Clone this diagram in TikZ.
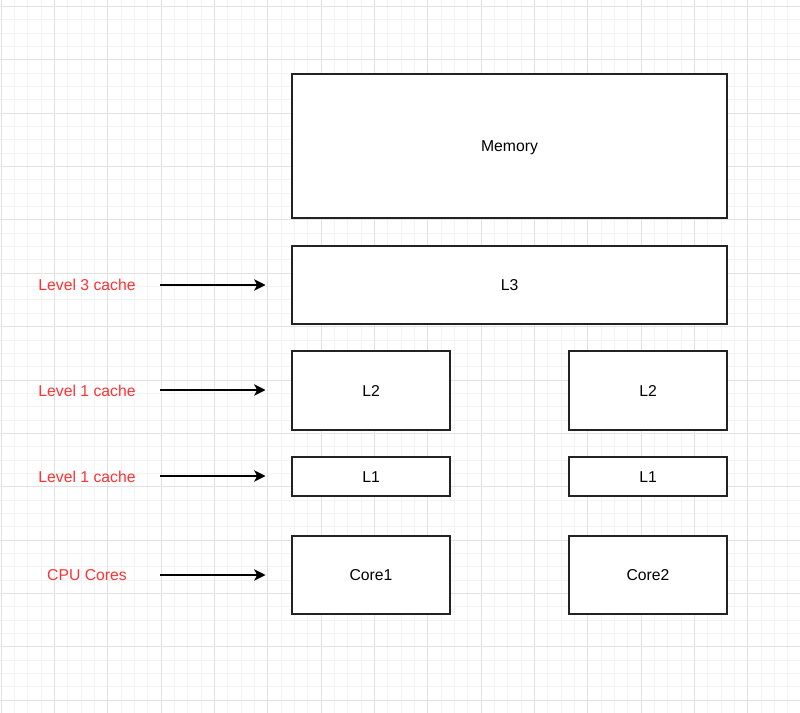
\documentclass[tikz,border=0pt]{standalone}
\usepackage{fontspec}
\setmainfont{Liberation Sans}
\usetikzlibrary{arrows.meta}
\definecolor{gridminor}{HTML}{F3F3F3}
\definecolor{gridmajor}{HTML}{E2E2E2}
\definecolor{lblred}{HTML}{FF3333}
\definecolor{boxline}{HTML}{222222}
\tikzset{
  x=0.75pt, y=-0.75pt,
  minorgrid/.style={draw=gridminor, line width=0.75pt},
  majorgrid/.style={draw=gridmajor, line width=0.75pt},
  txt/.style={font=\fontsize{11.8pt}{14pt}\selectfont, text height=8.45pt, text depth=0pt},
  box/.style={txt, draw=boxline, fill=white, line width=1pt, inner sep=0pt},
  lbl/.style={txt, text=lblred, inner sep=0pt},
  pointer/.style={draw=black, line width=1pt, -{Stealth[length=8.5pt, width=8.5pt, inset=2.2pt]}}
}
\begin{document}
\begin{tikzpicture}
\fill[white] (0,0) rectangle (800,713);
\useasboundingbox (0,0) rectangle (800,713);
% grid
\foreach \i in {0,...,60} {\draw[minorgrid] ({1+\i*13.3333},0) -- ({1+\i*13.3333},713);}
\foreach \i in {0,...,53} {\draw[minorgrid] (0,{6.667+\i*13.3333}) -- (800,{6.667+\i*13.3333});}
\foreach \i in {0,...,15} {\draw[majorgrid] ({1+\i*53.3333},0) -- ({1+\i*53.3333},713);}
\foreach \i in {0,...,13} {\draw[majorgrid] (0,{6.667+\i*53.3333}) -- (800,{6.667+\i*53.3333});}
% boxes
\node[box, minimum width=326.25pt, minimum height=108pt] (mem) at (509.5,146) {Memory};
\node[box, minimum width=326.25pt, minimum height=58.5pt] (l3) at (509.5,285) {L3};
\node[box, minimum width=118.5pt, minimum height=59.25pt] (l2a) at (371,390.5) {L2};
\node[box, minimum width=118.5pt, minimum height=59.25pt] (l2b) at (648,390.5) {L2};
\node[box, minimum width=118.5pt, minimum height=29.25pt] (l1a) at (371,476.5) {L1};
\node[box, minimum width=118.5pt, minimum height=29.25pt] (l1b) at (648,476.5) {L1};
\node[box, minimum width=118.5pt, minimum height=58.5pt] (c1) at (371,575) {Core1};
\node[box, minimum width=118.5pt, minimum height=58.5pt] (c2) at (648,575) {Core2};
% labels
\node[lbl] (t3) at (87,285) {Level 3 cache};
\node[lbl] (t2) at (87,390.5) {Level 1 cache};
\node[lbl] (t1) at (87,476.5) {Level 1 cache};
\node[lbl] (tc) at (87,575) {CPU Cores};
% arrow endpoints
\coordinate (s3) at (160,285); \coordinate (e3) at (265.5,285);
\coordinate (s2) at (160,390); \coordinate (e2) at (265.5,390);
\coordinate (s1) at (160,476); \coordinate (e1) at (265.5,476);
\coordinate (sc) at (160,575); \coordinate (ec) at (265.5,575);
\draw[pointer] (s3) -- (e3);
\draw[pointer] (s2) -- (e2);
\draw[pointer] (s1) -- (e1);
\draw[pointer] (sc) -- (ec);
\end{tikzpicture}
\end{document}
